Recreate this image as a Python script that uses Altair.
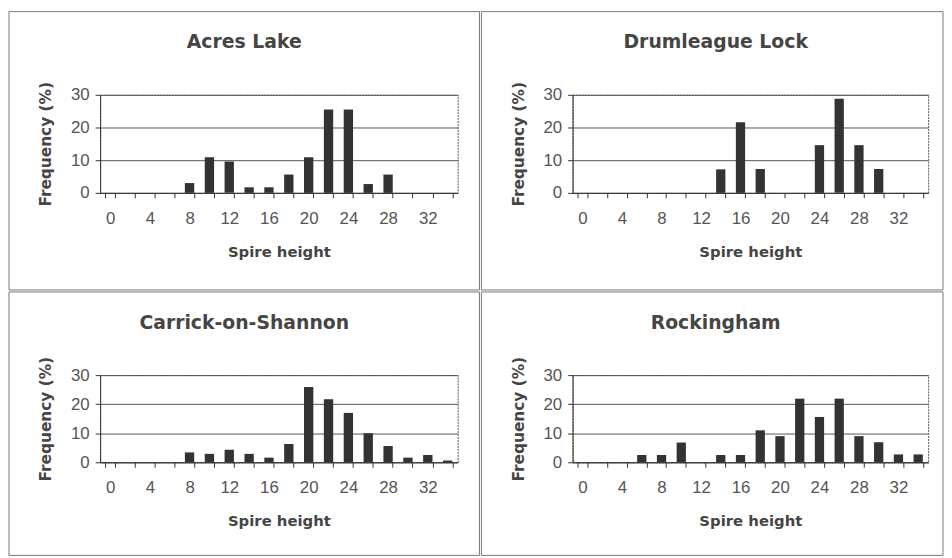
import altair as alt
import pandas as pd

heights = list(range(0, 36, 2))

titles = ["Acres Lake", "Drumleague Lock", "Carrick-on-Shannon", "Rockingham"]
acres = [0, 0, 0, 0, 3.0, 10.9, 9.6, 1.7, 1.7, 5.6, 10.9, 25.5, 25.5, 2.7, 5.6, 0, 0, 0]
drumleague = [0, 0, 0, 0, 0, 0, 0, 7.2, 21.6, 7.3, 0, 0, 14.6, 28.8, 14.6, 7.3, 0, 0]
carrick = [0, 0, 0, 0, 3.4, 2.9, 4.3, 2.9, 1.6, 6.3, 25.9, 21.7, 17.0, 10.0, 5.6, 1.6, 2.5, 0.6]
rockingham = [0, 0, 0, 2.5, 2.5, 6.8, 0, 2.5, 2.5, 11.0, 9.0, 21.9, 15.6, 21.9, 9.0, 6.9, 2.7, 2.7]

y_ticks = [0, 10, 20, 30]
x_title = "Spire height"
y_title = "Frequency (%)"

TEXT = "#454545"
LABEL_FONT = "Liberation Sans"
TITLE_FONT = "DejaVu Sans"


def panel(title, values, W, H, box):
    left, right, top, bottom = box
    df = pd.DataFrame({"h": heights, "f": values})
    bars = alt.Chart(df).mark_bar(color="#333333").encode(
        x=alt.X(
            "h:O",
            scale=alt.Scale(domain=heights, paddingInner=0.53, paddingOuter=0.27),
            axis=alt.Axis(
                title=x_title,
                labelExpr="datum.value % 4 == 0 ? datum.label : ''",
                labelAngle=0,
                tickBand="extent",
                tickSize=5,
                tickColor="#333333",
                domainColor="#333333",
                labelFont=LABEL_FONT,
                labelFontSize=17,
                labelColor="#555555",
                labelBaseline="middle",
                labelPadding=21,
                titleFont=TITLE_FONT,
                titleFontSize=15,
                titleFontWeight="bold",
                titleColor=TEXT,
                titleX=W / 2,
                titleY=59,
                titleBaseline="middle",
                titleAlign="center",
                grid=False,
            ),
        ),
        y=alt.Y(
            "f:Q",
            scale=alt.Scale(domain=[0, 30], nice=False),
            axis=alt.Axis(
                title=y_title,
                values=y_ticks,
                tickSize=5,
                tickColor="#333333",
                domainColor="#333333",
                labelFont=LABEL_FONT,
                labelFontSize=17,
                labelColor="#555555",
                labelPadding=6,
                titleFont=TITLE_FONT,
                titleFontSize=15.5,
                titleFontWeight="bold",
                titleColor=TEXT,
                titleX=-55,
                titleY=H / 2,
                titleBaseline="middle",
                titleAlign="center",
                grid=True,
                gridColor="#555555",
                gridWidth=1,
            ),
        ),
    )
    border = alt.Chart(pd.DataFrame({"k": [0]})).mark_rect(
        fill="transparent", stroke="#777777", strokeWidth=1
    ).encode(
        x=alt.value(left), x2=alt.value(right), y=alt.value(top), y2=alt.value(bottom)
    )
    ttl = alt.Chart(pd.DataFrame({"t": [title]})).mark_text(
        font=TITLE_FONT, fontSize=19, fontWeight="bold", color=TEXT,
        align="center", baseline="alphabetic"
    ).encode(text="t:N", x=alt.value(W / 2 - 35), y=alt.value(-47))
    return alt.layer(border, bars, ttl).properties(width=W, height=H)


p1 = panel(titles[0], acres, 361, 99, (-92, 383, -84, 197))
p2 = panel(titles[1], drumleague, 359, 99, (-92, 374, -84, 197))
p3 = panel(titles[2], carrick, 361, 88, (-92, 383, -84, 182))
p4 = panel(titles[3], rockingham, 359, 88, (-92, 374, -84, 182))

chart = alt.vconcat(
    alt.hconcat(p1, p2, spacing=0),
    alt.hconcat(p3, p4, spacing=0),
    spacing=0,
).properties(padding=0, background="white").configure_view(
    stroke="#555555", strokeDash=[2, 1]
)

chart.save("out.html", embed_options={"renderer": "svg", "actions": False})
